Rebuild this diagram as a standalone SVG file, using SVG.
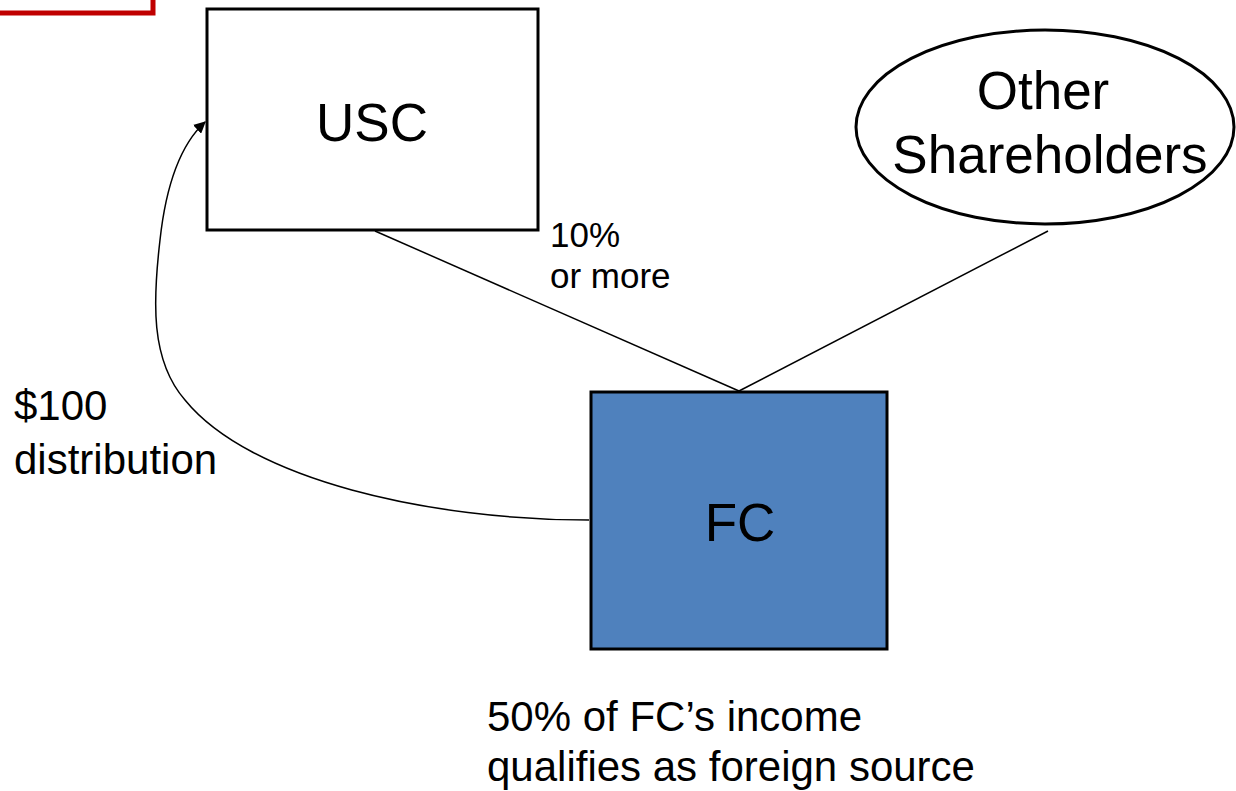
<svg xmlns="http://www.w3.org/2000/svg" width="1236" height="791" viewBox="0 0 1236 791">
<defs>
<style>
text{font-family:"Liberation Sans",Arial,sans-serif;fill:#000}
.big{font-size:53px}
.mid{font-size:42px}
.sm{font-size:35px}
.ln{stroke:#000;stroke-width:1.5;fill:none}
</style>
<marker id="ah" viewBox="0 0 10 10" refX="9" refY="5" markerWidth="12" markerHeight="12" orient="auto" markerUnits="userSpaceOnUse"><path d="M0,0 L10,5 L0,10 z" fill="#000"/></marker>
</defs>
<rect x="-20" y="-20" width="173" height="33" fill="none" stroke="#C00000" stroke-width="5"/>
<g id="connectors">
<line class="ln" x1="375" y1="231" x2="739" y2="391"/>
<line class="ln" x1="1048" y1="231" x2="739" y2="391"/>
<path class="ln" d="M589,520 C430,520 250,480 185,400 C150,360 153,300 160,240 C166,185 180,145 205,122" marker-end="url(#ah)" stroke-width="2"/>
</g>
<g id="usc">
<rect x="207" y="9" width="331" height="221" fill="#fff" stroke="#000" stroke-width="3"/>
<text class="big" x="372" y="141" text-anchor="middle">USC</text>
</g>
<g id="other">
<ellipse cx="1045" cy="127" rx="189" ry="97" fill="#fff" stroke="#000" stroke-width="3"/>
<text class="big" x="1043" y="109" text-anchor="middle">Other</text>
<text class="big" x="1050" y="173" text-anchor="middle">Shareholders</text>
</g>
<g id="fc">
<rect x="591" y="392" width="296" height="257" fill="#4F81BD" stroke="#000" stroke-width="3"/>
<text class="big" x="740" y="541" text-anchor="middle">FC</text>
</g>
<text class="sm" x="550" y="247">10%</text>
<text class="sm" x="550" y="288">or more</text>
<text class="mid" x="14" y="420">$100</text>
<text class="mid" x="14" y="474">distribution</text>
<text class="mid" x="487" y="731">50% of FC’s income</text>
<text class="mid" x="487" y="781">qualifies as foreign source</text>
</svg>
